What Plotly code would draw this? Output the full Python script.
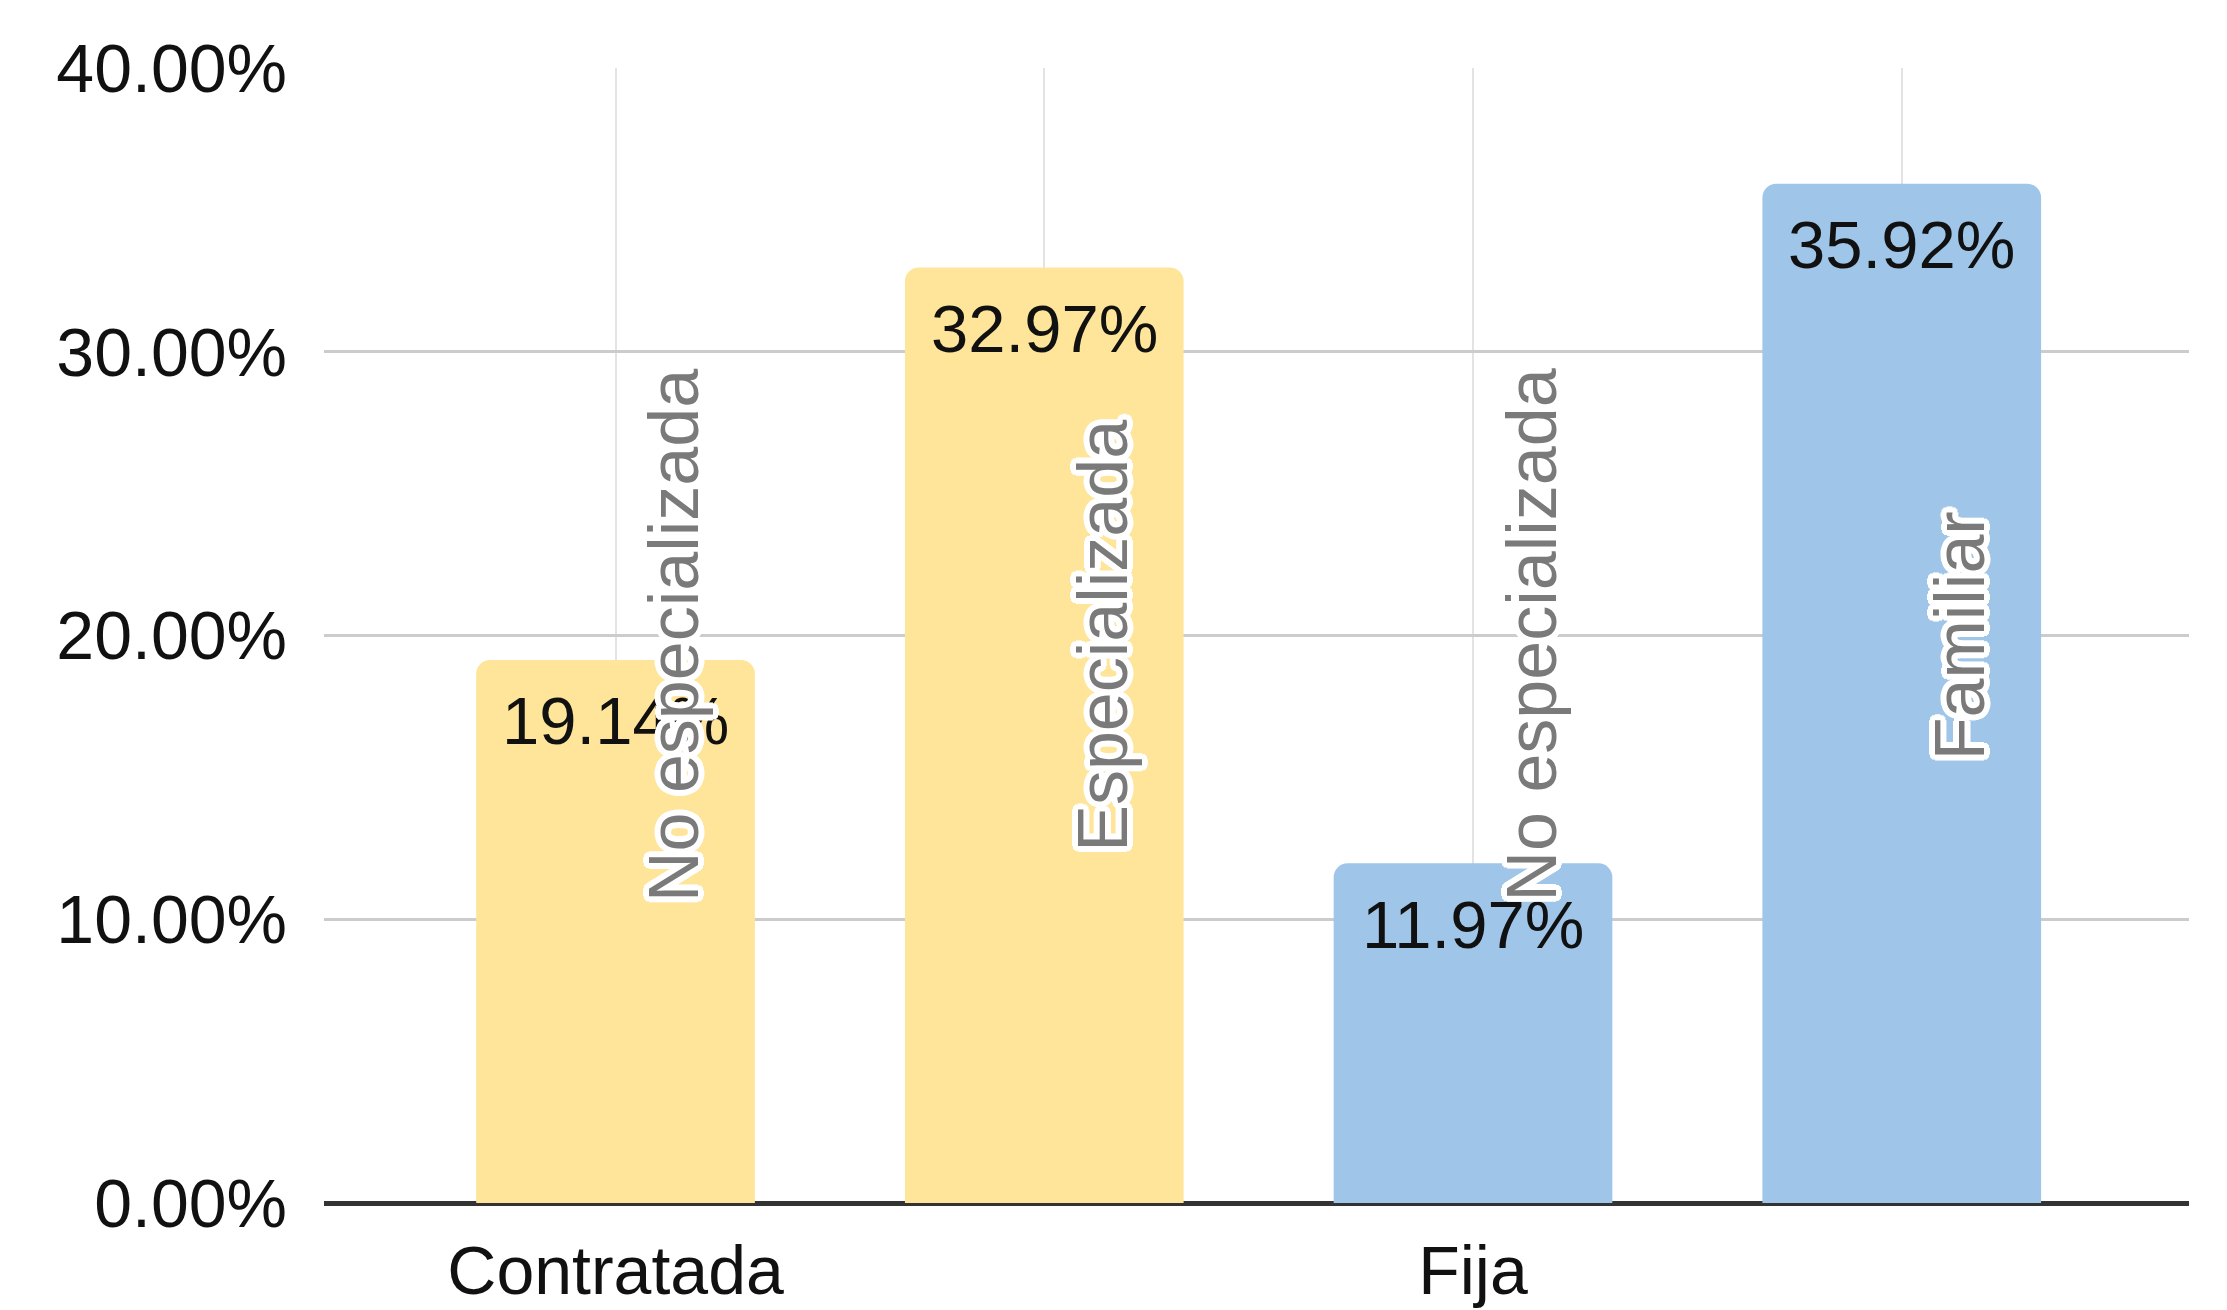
import plotly.graph_objects as go

# ---- data ----
positions = [0, 1, 2, 3]
tick_labels = ["Contratada", "", "Fija", ""]
series_names = ["No especializada", "Especializada", "No especializada", "Familiar"]
values = [19.14, 32.97, 11.97, 35.92]
bar_colors = ["#FFE599", "#FFE599", "#9FC5E8", "#9FC5E8"]
y_ticks = [0, 10, 20, 30, 40]
y_tick_labels = [f"{t:.2f}%" for t in y_ticks]

FONT = "Liberation Sans, Arial, sans-serif"

fig = go.Figure()
fig.add_trace(go.Bar(
    x=positions,
    y=values,
    width=0.65,
    marker=dict(color=bar_colors, line=dict(width=0)),
    hoverinfo="skip",
    showlegend=False,
))

annotations = []
for x, v in zip(positions, values):
    annotations.append(dict(
        x=x, y=v, xref="x", yref="y",
        text=f"{v:.2f}%",
        showarrow=False,
        yanchor="middle", xanchor="center",
        yshift=-61,
        font=dict(family=FONT, size=67, color="#111111"),
    ))
halo_offsets = [(6, 0), (-6, 0), (0, 6), (0, -6), (5, 3), (-5, 3), (5, -3), (-5, -3),
                (3, 5), (-3, 5), (3, -5), (-3, -5), (4, 4), (-4, 4), (4, -4), (-4, -4)]
halo = ", ".join(f"{dx}px {dy}px 0 white" for dx, dy in halo_offsets)
for x, name in zip(positions, series_names):
    annotations.append(dict(
        x=x, y=0.5, xref="x", yref="paper",
        text=name,
        showarrow=False,
        textangle=-90,
        xanchor="center", yanchor="middle",
        xshift=58,
        font=dict(family=FONT, size=70, color="#7a7a7a", shadow=halo),
    ))

fig.update_layout(
    width=2227, height=1310,
    margin=dict(l=324, r=38, t=68, b=107, autoexpand=False),
    paper_bgcolor="white",
    plot_bgcolor="white",
    barcornerradius=14,
    font=dict(family=FONT, size=68, color="#111111"),
    annotations=annotations,
    xaxis=dict(
        range=[-0.68, 3.67],
        tickmode="array",
        tickvals=positions,
        ticktext=tick_labels,
        showgrid=True,
        gridcolor="#e3e3e3",
        gridwidth=2,
        zeroline=False,
        showline=False,
        ticks="",
        ticklabelstandoff=22,
        tickfont=dict(family=FONT, size=68, color="#111111"),
        automargin=False,
    ),
    yaxis=dict(
        range=[0, 40],
        tickmode="array",
        tickvals=y_ticks,
        ticktext=y_tick_labels,
        showgrid=True,
        gridcolor="#cccccc",
        gridwidth=3,
        zeroline=True,
        zerolinecolor="#333333",
        zerolinewidth=5,
        showline=False,
        ticks="",
        ticklabelstandoff=36,
        tickfont=dict(family=FONT, size=68, color="#111111"),
        automargin=False,
    ),
)

fig.write_html(
    "out.html",
    config={"displayModeBar": False},
    post_script="document.body.style.margin='0';document.body.style.overflow='hidden';",
)
